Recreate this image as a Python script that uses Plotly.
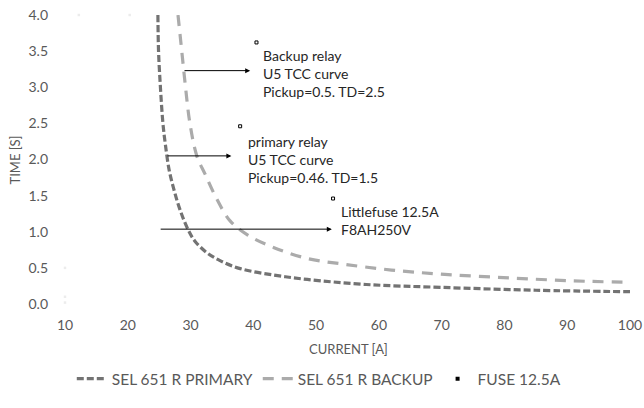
import plotly.graph_objects as go

# Data
primary_x = [24.8, 24.9, 25.2, 25.6, 26.0, 26.6, 27.3, 28.3, 29.6, 30.7, 32.6, 34.7, 37.9, 43.3, 48.6, 58, 70, 85, 100]
primary_t = [4.0, 3.5, 3.0, 2.5, 2.2, 1.85, 1.6, 1.31, 1.03, 0.87, 0.71, 0.60, 0.49, 0.40, 0.34, 0.27, 0.23, 0.19, 0.17]

backup_x = [28.0, 28.6, 29.2, 29.9, 31.0, 32.3, 34.2, 36.3, 39.0, 43.3, 48.6, 54.5, 62, 70.5, 81, 91, 100]
backup_t = [4.0, 3.5, 3.0, 2.5, 2.05, 1.8, 1.45, 1.15, 0.96, 0.78, 0.63, 0.55, 0.47, 0.41, 0.36, 0.32, 0.30]

fuse_x = [10, 10, 10, 12.2, 20.3]
fuse_t = [0.5, 0.1, 0.02, 4.0, 4.0]

x_ticks = [10, 20, 30, 40, 50, 60, 70, 80, 90, 100]
y_ticks = [0.0, 0.5, 1.0, 1.5, 2.0, 2.5, 3.0, 3.5, 4.0]

# Annotation content
notes = [
    {"text": "Backup relay<br>U5 TCC curve<br>Pickup=0.5. TD=2.5", "x": 41.3, "y": 3.59,
     "ax": 28.8, "ay": 3.23, "hx": 39.5, "marker": (40.5, 3.62)},
    {"text": "primary relay<br>U5 TCC curve<br>Pickup=0.46. TD=1.5", "x": 38.9, "y": 2.40,
     "ax": 26.1, "ay": 2.05, "hx": 36.5, "marker": (37.9, 2.46)},
    {"text": "Littlefuse 12.5A<br>F8AH250V", "x": 53.6, "y": 1.42,
     "ax": 25.0, "ay": 1.036, "hx": 52.5, "marker": (52.7, 1.46)},
]

FONT = "Lato, Open Sans, sans-serif"
fig = go.Figure()

fig.add_trace(go.Scatter(x=primary_x, y=primary_t, mode="lines", name="SEL 651 R PRIMARY",
                         line=dict(color="#737373", width=3.2, dash="7px,3px", shape="spline")))
fig.add_trace(go.Scatter(x=backup_x, y=backup_t, mode="lines", name="SEL 651 R BACKUP",
                         line=dict(color="#ababab", width=3.2, dash="11px,8px", shape="spline")))
fig.add_trace(go.Scatter(x=fuse_x, y=fuse_t, mode="markers", showlegend=False,
                         marker=dict(color="#ececec", size=2.5, symbol="square"), cliponaxis=False))
fig.add_trace(go.Scatter(x=[None], y=[None], mode="markers", name="FUSE 12.5A",
                         marker=dict(color="#000000", size=4, symbol="square")))

# small anchor squares
fig.add_trace(go.Scatter(x=[n["marker"][0] for n in notes], y=[n["marker"][1] for n in notes],
                         mode="markers", showlegend=False,
                         marker=dict(symbol="square-open", size=3, color="#000000",
                                     line=dict(width=1, color="#000000"))))

for n in notes:
    fig.add_annotation(x=n["x"], y=n["y"], xref="x", yref="y", text=n["text"], showarrow=False,
                       xanchor="left", yanchor="top", align="left",
                       font=dict(family=FONT, size=14, color="#262626"))
    fig.add_annotation(x=n["hx"], y=n["ay"], ax=n["ax"], ay=n["ay"], xref="x", yref="y",
                       axref="x", ayref="y", text="", showarrow=True, arrowhead=2,
                       arrowsize=1, arrowwidth=1, arrowcolor="#000000")

# axis titles
fig.add_annotation(x=-0.0885, y=0.5, xref="paper", yref="paper", text="TIME [S]", textangle=-90,
                   showarrow=False, xanchor="center", yanchor="middle",
                   font=dict(family=FONT, size=13, color="#595959"))
fig.add_annotation(x=0.502, y=-0.155, xref="paper", yref="paper", text="CURRENT [A]",
                   showarrow=False, xanchor="center", yanchor="middle",
                   font=dict(family=FONT, size=13, color="#595959"))

fig.update_layout(
    width=644, height=408,
    margin=dict(l=65, r=14, t=15, b=93),
    paper_bgcolor="white", plot_bgcolor="white",
    font=dict(family=FONT, size=14, color="#595959"),
    xaxis=dict(range=[10, 100], tickvals=x_ticks, showgrid=False, zeroline=False, showline=False,
               ticks="", ticklabelstandoff=11, automargin=False, tickfont=dict(size=14),
               ticklabeloverflow="allow"),
    yaxis=dict(range=[0, 4], tickvals=y_ticks, tickformat=".1f", showgrid=False, zeroline=False,
               showline=False, ticks="", ticklabelstandoff=16, automargin=False,
               tickfont=dict(size=14), ticklabeloverflow="allow"),
    legend=dict(orientation="h", x=0.012, xanchor="left", y=-0.26, yanchor="middle",
                font=dict(size=15.5, color="#595959"), itemwidth=30),
)

fig.write_html("out.html", config={"displayModeBar": False},
               post_script="document.body.style.margin='0';document.body.style.overflow='hidden';")
